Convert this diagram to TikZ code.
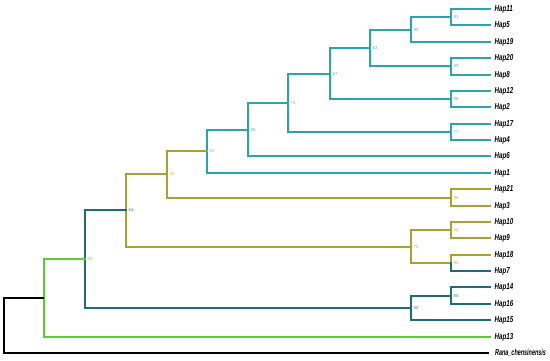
\documentclass[tikz,border=0pt]{standalone}
\usepackage{fontspec}
\setsansfont{Liberation Sans}
\usetikzlibrary{positioning}
\definecolor{CladeTeal}{HTML}{2AA5AD}
\definecolor{CladeOlive}{HTML}{A9A32A}
\definecolor{CladeDark}{HTML}{1F6B78}
\definecolor{CladeGreen}{HTML}{5CCB34}
\begin{document}
\begin{tikzpicture}[x=1pt,y=-1pt,
    branch/.style={line width=2pt,line cap=rect},
    tip/.style={font=\sffamily\bfseries\itshape\fontsize{8.6}{9}\selectfont,
                inner sep=0pt,xscale=.72,anchor=west},
    boot/.style={font=\sffamily\fontsize{4.4}{5}\selectfont,inner sep=0pt}]
    \useasboundingbox (0,0) rectangle (550,361);
    % tips
    \foreach \t/\i in {Hap11/0,Hap5/1,Hap19/2,Hap20/3,Hap8/4,Hap12/5,Hap2/6,Hap17/7,
                       Hap4/8,Hap6/9,Hap1/10,Hap21/11,Hap3/12,Hap10/13,Hap9/14,Hap18/15,
                       Hap7/16,Hap14/17,Hap16/18,Hap15/19,Hap13/20}{
      \pgfmathsetmacro\yy{round(9+16.38*\i)}
      \coordinate (\t) at (490,\yy);
      \node[tip,right=4.5pt of \t] (\t-lbl) {\t};
    }
    \coordinate (rana) at (489,353);
    \node[tip,xscale=.88,right=6pt of rana] (rana-lbl) {Rana\_chensinensis};
    % internal nodes
    \coordinate (b91) at (451,17);
    \coordinate (b80a) at (411,30);
    \coordinate (b99) at (451,66);
    \coordinate (b63) at (370,48);
    \coordinate (b96) at (451,99);
    \coordinate (b67) at (330,74);
    \coordinate (b77) at (451,132);
    \coordinate (b74) at (288,103);
    \coordinate (b80b) at (248,130);
    \coordinate (b62) at (207,151);
    \coordinate (b98) at (451,198);
    \coordinate (b72) at (167,174);
    \coordinate (b54) at (451,230);
    \coordinate (b92) at (451,263);
    \coordinate (b75) at (411,247);
    \coordinate (b64) at (126,210);
    \coordinate (b85) at (451,296);
    \coordinate (b90) at (411,308);
    \coordinate (b59) at (85,259);
    \coordinate (bgreen) at (44,298);
    \coordinate (root) at (4,326);
    % branches
    \draw[branch,CladeTeal] (b91) |- (Hap11) (b91) |- (Hap5) (b80a) |- (b91) (b80a) |- (Hap19)
      (b99) |- (Hap20) (b99) |- (Hap8) (b63) |- (b80a) (b63) |- (b99)
      (b96) |- (Hap12) (b96) |- (Hap2) (b67) |- (b63) (b67) |- (b96)
      (b77) |- (Hap17) (b77) |- (Hap4) (b74) |- (b67) (b74) |- (b77)
      (b80b) |- (b74) (b80b) |- (Hap6) (b62) |- (b80b) (b62) |- (Hap1);
    \draw[branch,CladeOlive] (b98) |- (Hap21) (b98) |- (Hap3) (b72) |- (b62) (b72) |- (b98)
      (b54) |- (Hap10) (b54) |- (Hap9) (b92) |- (Hap18) (b75) |- (b54) (b75) |- (b92)
      (b64) |- (b72) (b64) |- (b75);
    \draw[branch,CladeDark] (b92) |- (Hap7) (b85) |- (Hap14) (b85) |- (Hap16)
      (b90) |- (b85) (b90) |- (Hap15) (b59) |- (b64) (b59) |- (b90);
    \draw[branch,CladeGreen] (bgreen) |- (b59) (bgreen) |- (Hap13);
    \draw[line width=1.4pt] (root) |- (bgreen) (root) |- (rana);
    % support values
    \foreach \n/\v/\c in {b91/91/CladeTeal,b80a/80/CladeTeal,b99/99/CladeTeal,b63/63/CladeTeal,
        b96/96/CladeTeal,b67/67/CladeTeal,b77/77/CladeTeal,b74/74/CladeTeal,b80b/80/CladeTeal,
        b62/62/CladeOlive,b98/98/CladeOlive,b72/72/CladeOlive,b54/54/CladeOlive,b92/92/CladeOlive,
        b75/75/CladeOlive,b64/64/CladeDark,b85/85/CladeDark,b90/90/CladeDark,b59/59/CladeGreen}
      \node[boot,text=\c!80,right=2.5pt of \n] {\v};
  \end{tikzpicture}
\end{document}
